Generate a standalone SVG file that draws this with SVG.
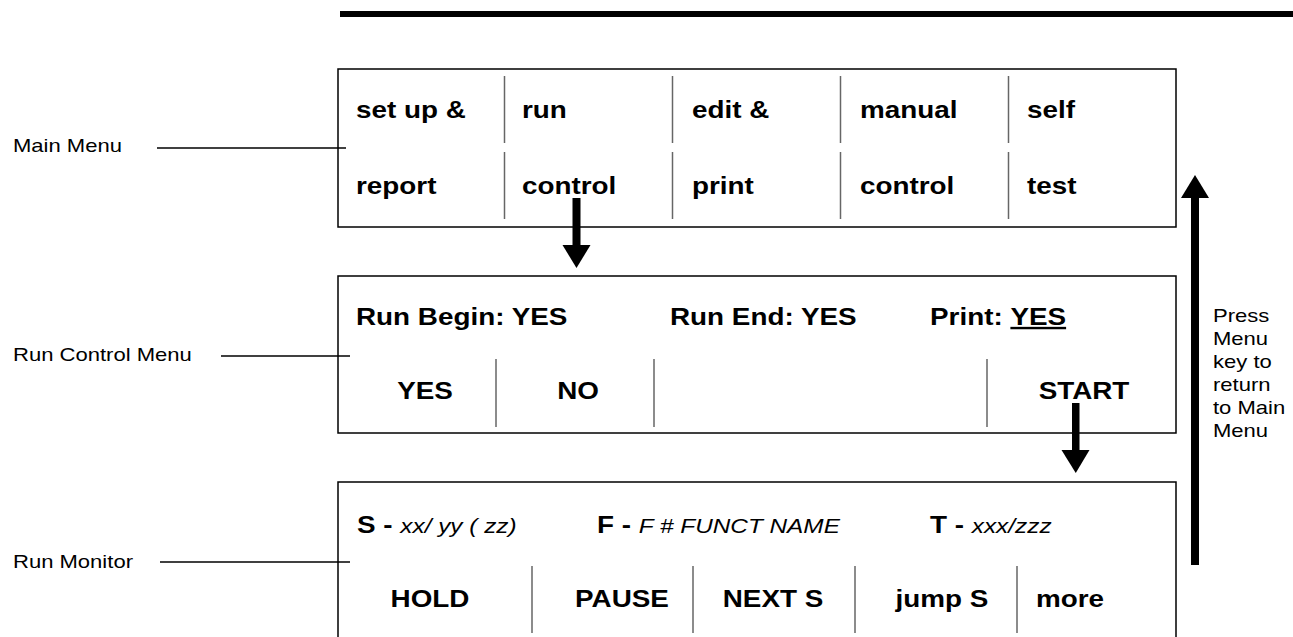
<svg xmlns="http://www.w3.org/2000/svg" width="1293" height="637" viewBox="0 0 1293 637">
  <style>
    .box { fill: #fff; stroke: #000; stroke-width: 1.5; }
    .div { stroke: #666; stroke-width: 1.5; }
    .lead { stroke: #000; stroke-width: 1.3; }
    text { font-family: "Liberation Sans", Arial, Helvetica, sans-serif; fill: #000; }
    .key { font-weight: bold; font-size: 24px; }
    .mid { text-anchor: middle; }
    .lbl { font-size: 19px; }
    .val { font-style: italic; font-weight: normal; font-size: 21px; }
    .arrow { fill: #000; }
  </style>
  <rect width="1293" height="637" fill="#fff"/>

  <!-- heading rule -->
  <rect x="340" y="11" width="953" height="6" fill="#000"/>

  <!-- Main Menu: five soft keys, two text lines each -->
  <g id="main-menu">
    <rect class="box" x="338" y="69" width="838" height="158"/>
    <line class="div" x1="504.5" y1="76" x2="504.5" y2="143"/>
    <line class="div" x1="672.5" y1="76" x2="672.5" y2="143"/>
    <line class="div" x1="840.5" y1="76" x2="840.5" y2="143"/>
    <line class="div" x1="1008.5" y1="76" x2="1008.5" y2="143"/>
    <line class="div" x1="504.5" y1="152" x2="504.5" y2="219"/>
    <line class="div" x1="672.5" y1="152" x2="672.5" y2="219"/>
    <line class="div" x1="840.5" y1="152" x2="840.5" y2="219"/>
    <line class="div" x1="1008.5" y1="152" x2="1008.5" y2="219"/>
    <text class="key" transform="translate(356,118) scale(1.16,1)">set up &amp;</text>
    <text class="key" transform="translate(522,118) scale(1.16,1)">run</text>
    <text class="key" transform="translate(692,118) scale(1.16,1)">edit &amp;</text>
    <text class="key" transform="translate(860,118) scale(1.16,1)">manual</text>
    <text class="key" transform="translate(1027,118) scale(1.16,1)">self</text>
    <text class="key" transform="translate(356,194) scale(1.16,1)">report</text>
    <text class="key" transform="translate(522,194) scale(1.16,1)">control</text>
    <text class="key" transform="translate(692,194) scale(1.16,1)">print</text>
    <text class="key" transform="translate(860,194) scale(1.16,1)">control</text>
    <text class="key" transform="translate(1027,194) scale(1.16,1)">test</text>
  </g>

  <!-- Run Control Menu -->
  <g id="run-control-menu">
    <rect class="box" x="338" y="276" width="838" height="157"/>
    <line class="div" x1="496" y1="359" x2="496" y2="427"/>
    <line class="div" x1="654" y1="359" x2="654" y2="427"/>
    <line class="div" x1="987" y1="359" x2="987" y2="427"/>
    <text class="key" transform="translate(356,325) scale(1.16,1)">Run Begin: YES</text>
    <text class="key" transform="translate(670,325) scale(1.16,1)">Run End: YES</text>
    <text class="key" transform="translate(930,325) scale(1.16,1)">Print: <tspan text-decoration="underline">YES</tspan></text>
    <text class="key mid" transform="translate(425,399) scale(1.16,1)">YES</text>
    <text class="key mid" transform="translate(578,399) scale(1.16,1)">NO</text>
    <text class="key mid" transform="translate(1084,399) scale(1.16,1)">START</text>
  </g>

  <!-- Run Monitor (box runs off the bottom of the page) -->
  <g id="run-monitor">
    <path class="box" d="M338,645 V482 H1176 V645"/>
    <line class="div" x1="532" y1="566" x2="532" y2="633"/>
    <line class="div" x1="693" y1="566" x2="693" y2="633"/>
    <line class="div" x1="855" y1="566" x2="855" y2="633"/>
    <line class="div" x1="1017" y1="566" x2="1017" y2="633"/>
    <text class="key" transform="translate(357,533) scale(1.16,1)">S - <tspan class="val">xx/ yy ( zz)</tspan></text>
    <text class="key" transform="translate(597,533) scale(1.16,1)">F - <tspan class="val">F # FUNCT NAME</tspan></text>
    <text class="key" transform="translate(930,533) scale(1.16,1)">T - <tspan class="val">xxx/zzz</tspan></text>
    <text class="key mid" transform="translate(430,607) scale(1.16,1)">HOLD</text>
    <text class="key mid" transform="translate(622,607) scale(1.16,1)">PAUSE</text>
    <text class="key mid" transform="translate(773,607) scale(1.16,1)">NEXT S</text>
    <text class="key mid" transform="translate(942,607) scale(1.16,1)">jump S</text>
    <text class="key mid" transform="translate(1070,607) scale(1.16,1)">more</text>
  </g>

  <!-- side labels -->
  <g id="label-main-menu">
    <text class="lbl" transform="translate(13,152) scale(1.16,1)">Main Menu</text>
  </g>
  <g id="label-run-control-menu">
    <text class="lbl" transform="translate(13,361) scale(1.16,1)">Run Control Menu</text>
  </g>
  <g id="label-run-monitor">
    <text class="lbl" transform="translate(13,568) scale(1.16,1)">Run Monitor</text>
  </g>
  <g id="label-return">
    <text class="lbl" transform="translate(1213,0) scale(1.16,1)">
      <tspan x="0" y="322">Press</tspan>
      <tspan x="0" y="345">Menu</tspan>
      <tspan x="0" y="368">key to</tspan>
      <tspan x="0" y="391">return</tspan>
      <tspan x="0" y="414">to Main</tspan>
      <tspan x="0" y="437">Menu</tspan>
    </text>
  </g>

  <!-- connectors -->
  <g id="connectors">
    <line class="lead" x1="157" y1="148" x2="346" y2="148"/>
    <line class="lead" x1="221" y1="356" x2="350" y2="356"/>
    <line class="lead" x1="160" y1="562" x2="350" y2="562"/>
    <!-- control -> Run Control Menu -->
    <rect class="arrow" x="572.5" y="198" width="8" height="48"/>
    <polygon class="arrow" points="562.5,245 590.5,245 576.5,268"/>
    <!-- START -> Run Monitor -->
    <rect class="arrow" x="1072" y="403" width="7.5" height="48"/>
    <polygon class="arrow" points="1061.5,450 1089.5,450 1075.75,473"/>
    <!-- Menu key back to Main Menu -->
    <rect class="arrow" x="1191" y="197" width="8" height="368"/>
    <polygon class="arrow" points="1181,198 1209,198 1195,175"/>
  </g>
</svg>
